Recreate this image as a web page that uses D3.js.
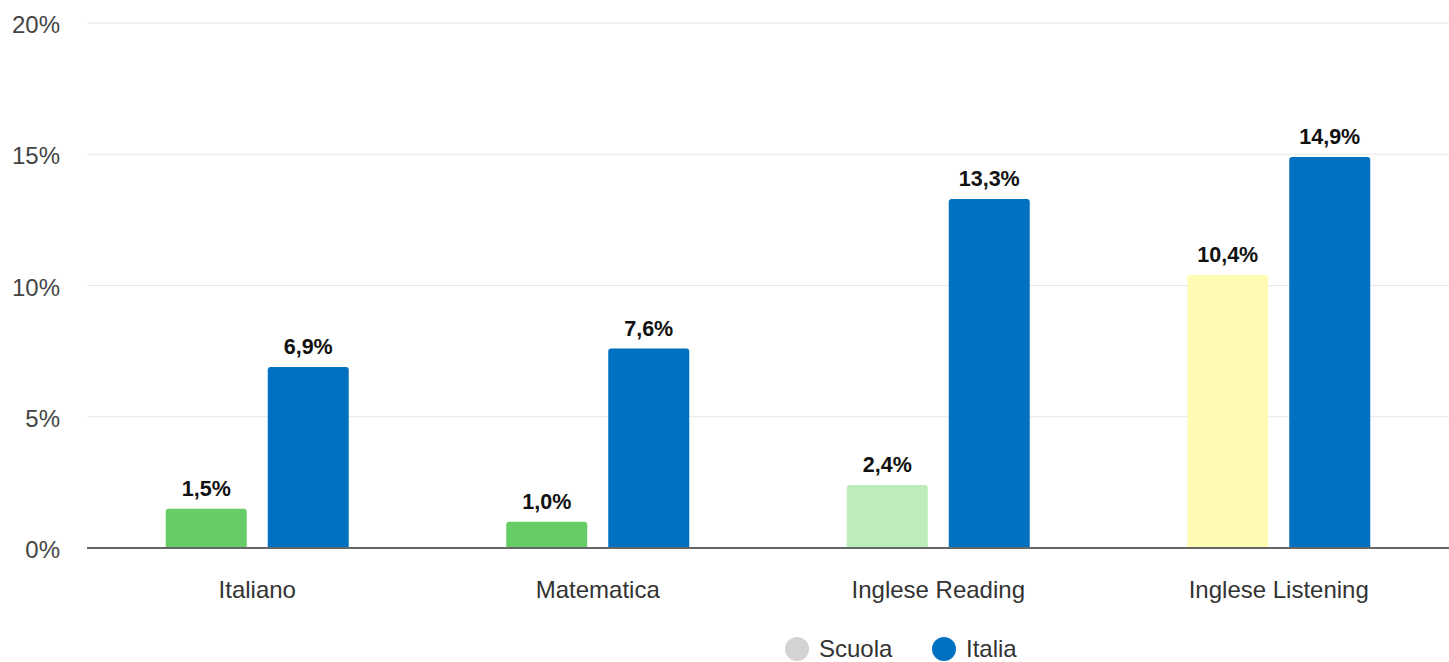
<!DOCTYPE html>
<html><head><meta charset="utf-8">
<script src="https://cdn.jsdelivr.net/npm/d3@7"></script>
<style>body{margin:0;background:#fff;font-family:"Liberation Sans",Arial,sans-serif;}</style>
</head><body><svg id="c" width="1449" height="662"></svg>
<script>
const categories = ["Italiano", "Matematica", "Inglese Reading", "Inglese Listening"];
const series = ["Scuola", "Italia"];
const scuolaValues = [1.5, 1.0, 2.4, 10.4];
const italiaValues = [6.9, 7.6, 13.3, 14.9];
const yTicks = [0, 5, 10, 15, 20];
const scuolaColors = ["#66cc66", "#66cc66", "#bdedbb", "#fffbb4"];
const italiaColor = "#0070c0";
const legendColors = ["#d3d3d3", "#0070c0"];

(function () {
const svg = d3.select("#c");
const mLeft = 87, mRight = 1449, mTop = 23, mBottom = 548;
const y = d3.scaleLinear().domain([0, 20]).range([mBottom, mTop]);
const x0 = d3.scaleBand().domain(categories).range([mLeft, mRight]).padding(0);
const x1 = d3.scaleBand().domain(series).range([-91.5, 91.5]).paddingInner(0.206);

// grid
svg.append("g").selectAll("line").data(yTicks.filter(d => d > 0)).join("line")
  .attr("x1", mLeft).attr("x2", mRight).attr("y1", d => y(d)).attr("y2", d => y(d))
  .attr("stroke", "#e6e6e6").attr("stroke-width", 1);

// y axis labels
const yAxis = d3.axisLeft(y).tickValues(yTicks).tickFormat(d => d + "%").tickSize(0).tickPadding(0);
const ya = svg.append("g").attr("transform", "translate(60,2)").call(yAxis);
ya.select(".domain").remove();
ya.selectAll("text").attr("font-size", 24).attr("fill", "#444").attr("font-family", "'Liberation Sans',Arial,sans-serif");

function roundTopRect(x, yTop, w, h, r) {
  r = Math.min(r, h);
  return `M${x},${yTop + h}V${yTop + r}Q${x},${yTop} ${x + r},${yTop}H${x + w - r}Q${x + w},${yTop} ${x + w},${yTop + r}V${yTop + h}Z`;
}

const data = categories.map((c, i) => ({ cat: c, vals: [
  { s: "Scuola", v: scuolaValues[i], color: scuolaColors[i] },
  { s: "Italia", v: italiaValues[i], color: italiaColor }
]}));

const groups = svg.append("g").selectAll("g").data(data).join("g")
  .attr("transform", d => `translate(${x0(d.cat) + x0.bandwidth() / 2},0)`);

groups.selectAll("path").data(d => d.vals).join("path")
  .attr("d", d => roundTopRect(x1(d.s), y(d.v), x1.bandwidth(), mBottom - y(d.v), 3))
  .attr("fill", d => d.color);

groups.selectAll("text").data(d => d.vals).join("text")
  .attr("x", d => x1(d.s) + x1.bandwidth() / 2)
  .attr("y", d => y(d.v) - 13)
  .attr("text-anchor", "middle")
  .attr("font-size", 21.5).attr("font-weight", "bold").attr("fill", "#111")
  .text(d => d.v.toFixed(1).replace(".", ",") + "%");

// x axis
const xAxis = d3.axisBottom(x0).tickSize(0).tickPadding(33);
const xa = svg.append("g").attr("transform", `translate(0,${mBottom})`).call(xAxis);
xa.select(".domain").remove();
xa.selectAll("text").attr("font-size", 24).attr("fill", "#333").attr("font-family", "'Liberation Sans',Arial,sans-serif");
svg.append("line").attr("x1", mLeft).attr("x2", mRight).attr("y1", mBottom).attr("y2", mBottom)
  .attr("stroke", "#666").attr("stroke-width", 2);

// legend
const legX = [797, 944];
const leg = svg.append("g").selectAll("g").data(series).join("g")
  .attr("transform", (d, i) => `translate(${legX[i]},649)`);
leg.append("circle").attr("r", 12).attr("fill", (d, i) => legendColors[i]);
leg.append("text").attr("x", 22).attr("dy", "0.35em").attr("font-size", 24).attr("fill", "#333").text(d => d);
})();
</script></body></html>
